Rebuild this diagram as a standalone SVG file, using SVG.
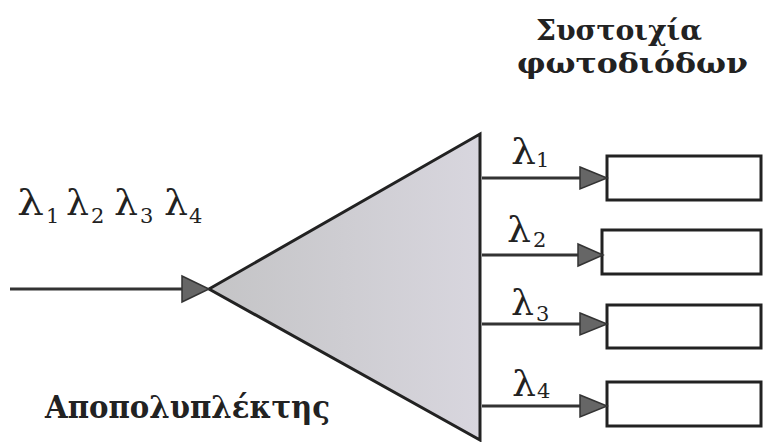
<svg xmlns="http://www.w3.org/2000/svg" width="768" height="442" viewBox="0 0 768 442">
<style>
.t{font-family:"DejaVu Serif","Liberation Serif",serif;fill:#222;}
.lam{font-size:36px;}
.sub{font-size:21px;}
.ttl{font-size:28px;font-weight:bold;}
.big{font-size:31px;font-weight:bold;}
.ln{stroke:#333;stroke-width:3;fill:none;}
.ah{fill:#666;stroke:#333;stroke-width:1.5;}
.box{fill:#fff;stroke:#222;stroke-width:3;}
</style>
<defs>
<linearGradient id="g" x1="0" y1="0" x2="1" y2="0">
<stop offset="0" stop-color="#c4c4c6"/>
<stop offset="1" stop-color="#d8d6de"/>
</linearGradient>
</defs>
<rect width="768" height="442" fill="#fff"/>
<g id="demux">
<polygon points="209,289 480,134 480,440" fill="url(#g)" stroke="#222" stroke-width="3"/>
<text class="t big" x="45" y="418" textLength="285" lengthAdjust="spacingAndGlyphs">Αποπολυπλέκτης</text>
</g>
<g id="pd1"><rect class="box" x="607" y="156" width="154" height="44"/></g>
<g id="pd2"><rect class="box" x="602" y="230" width="159" height="44"/></g>
<g id="pd3"><rect class="box" x="607" y="305" width="154" height="43"/></g>
<g id="pd4"><rect class="box" x="607" y="382" width="154" height="44"/></g>
<g id="title">
<text class="t ttl" x="536" y="40" textLength="166" lengthAdjust="spacingAndGlyphs">Συστοιχία</text>
<text class="t ttl" x="517" y="73" textLength="231" lengthAdjust="spacingAndGlyphs">φωτοδιόδων</text>
</g>
<g id="input-label">
<text class="t lam" x="17" y="215" textLength="27" lengthAdjust="spacingAndGlyphs">λ</text><text class="t sub" x="46" y="223">1</text>
<text class="t lam" x="66" y="215" textLength="23" lengthAdjust="spacingAndGlyphs">λ</text><text class="t sub" x="91" y="223">2</text>
<text class="t lam" x="114" y="215" textLength="24" lengthAdjust="spacingAndGlyphs">λ</text><text class="t sub" x="140" y="223">3</text>
<text class="t lam" x="164" y="215" textLength="24" lengthAdjust="spacingAndGlyphs">λ</text><text class="t sub" x="189" y="223">4</text>
</g>
<g id="connectors">
<line x1="10" y1="289" x2="182" y2="289" class="ln"/>
<path class="ah" d="M182,276 L209,289 L182,302 Z"/>
<line x1="482" y1="178" x2="580" y2="178" class="ln"/>
<path class="ah" d="M580,167 L607,178 L580,189 Z"/>
<line x1="482" y1="255" x2="578" y2="255" class="ln"/>
<path class="ah" d="M578,244 L603,255 L578,266 Z"/>
<line x1="482" y1="324" x2="580" y2="324" class="ln"/>
<path class="ah" d="M580,313 L607,324 L580,335 Z"/>
<line x1="482" y1="406" x2="580" y2="406" class="ln"/>
<path class="ah" d="M580,395 L607,406 L580,417 Z"/>
</g>
<g id="output-labels">
<text class="t lam" x="511" y="164" textLength="25" lengthAdjust="spacingAndGlyphs">λ</text><text class="t sub" x="536" y="167">1</text>
<text class="t lam" x="507" y="242" textLength="24" lengthAdjust="spacingAndGlyphs">λ</text><text class="t sub" x="533" y="247">2</text>
<text class="t lam" x="511" y="315" textLength="23" lengthAdjust="spacingAndGlyphs">λ</text><text class="t sub" x="536" y="321">3</text>
<text class="t lam" x="512" y="396" textLength="24" lengthAdjust="spacingAndGlyphs">λ</text><text class="t sub" x="537" y="398">4</text>
</g>
</svg>
